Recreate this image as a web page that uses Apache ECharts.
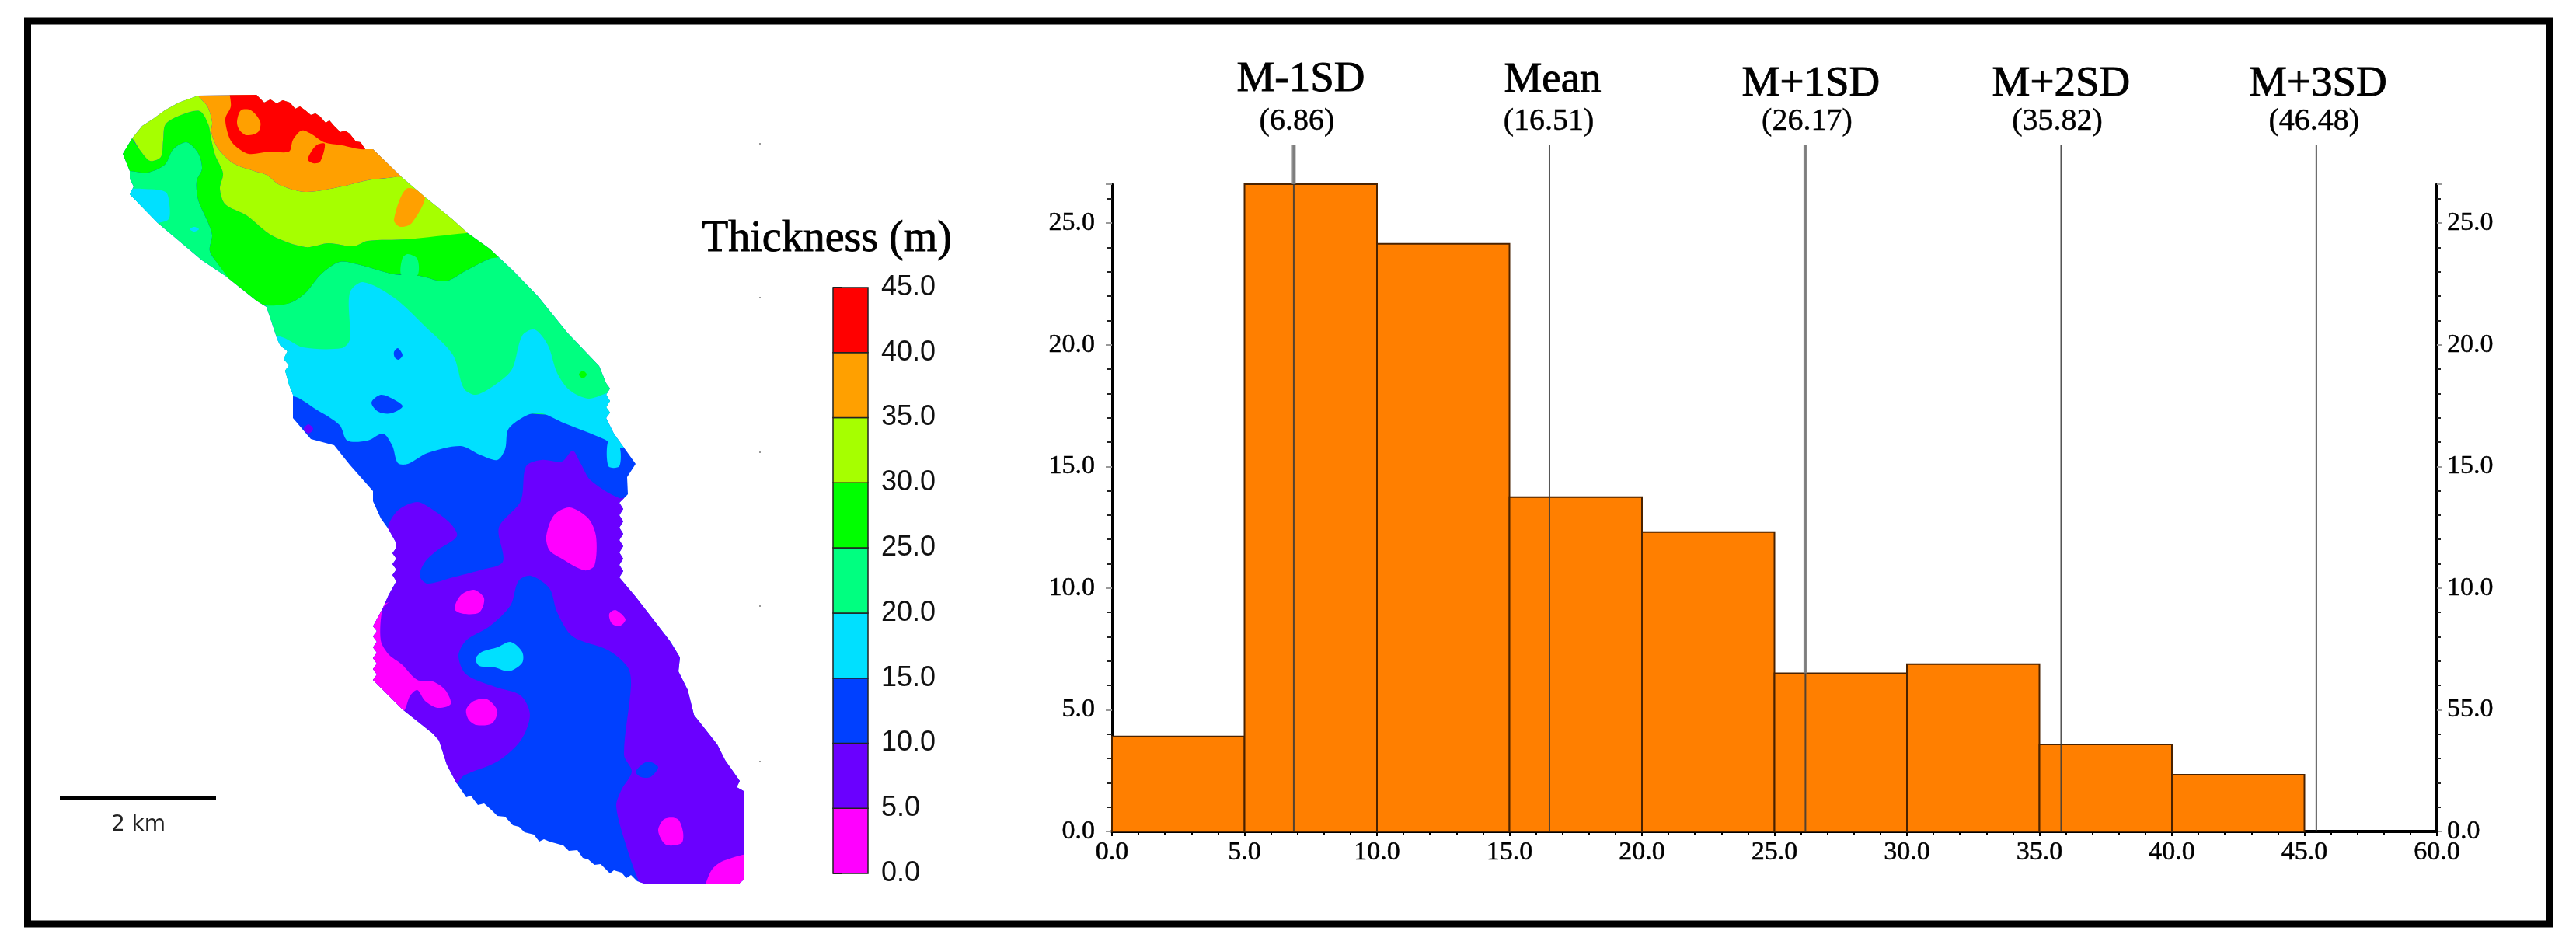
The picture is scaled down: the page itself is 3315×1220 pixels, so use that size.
<!DOCTYPE html>
<html>
<head>
<meta charset="utf-8">
<title>Thickness map and histogram</title>
<script src="https://cdn.jsdelivr.net/npm/echarts@6/dist/echarts.min.js"></script>
<style>
  html, body { margin: 0; padding: 0; background: #fff; }
  #chart { width: 3315px; height: 1220px; }
</style>
</head>
<body>
<div id="chart"></div>
<script>
// histogram values
const binEdges = [0, 5, 10, 15, 20, 25, 30, 35, 40, 45];
const binValues = [3.9, 26.6, 24.15, 13.74, 12.3, 6.5, 6.87, 3.58, 2.33];
const xTickLabels = ['0.0', '5.0', '10.0', '15.0', '20.0', '25.0', '30.0', '35.0', '40.0', '45.0', '60.0'];
const yTickLabels = ['0.0', '5.0', '10.0', '15.0', '20.0', '25.0'];
const rightTickLabels = ['0.0', '55.0', '10.0', '15.0', '20.0', '25.0'];

// statistic lines
const markerNames = ['M-1SD', 'Mean', 'M+1SD', 'M+2SD', 'M+3SD'];
const markerTexts = ['(6.86)', '(16.51)', '(26.17)', '(35.82)', '(46.48)'];
const markerValues = [6.86, 16.51, 26.17, 35.82, 45.45];

// legend
const bandEdges = [0, 5, 10, 15, 20, 25, 30, 35, 40, 45];
const legendTicks = ['0.0', '5.0', '10.0', '15.0', '20.0', '25.0', '30.0', '35.0', '40.0', '45.0'];

// map outline and thickness regions, map units
const mapBoundary = [[158,198],[170,178],[183,162],[197,153],[212,142],[230,132],[255,123],[330,122],[340,132],[348,128],[356,133],[364,129],[373,132],[380,140],[386,137],[393,142],[400,148],[406,146],[412,150],[419,158],[424,155],[430,162],[438,170],[444,168],[450,172],[458,182],[464,183],[470,192],[480,192],[517,228],[545,252],[582,282],[602,300],[630,320],[660,348],[692,381],[730,428],[771,471],[780,493],[785,500],[780,508],[785,516],[780,524],[785,531],[780,538],[790,558],[818,597],[807,614],[808,636],[797,647],[802,655],[797,663],[802,671],[797,679],[802,687],[797,695],[802,703],[797,711],[802,719],[797,727],[802,735],[797,743],[818,768],[863,826],[875,846],[873,864],[885,888],[893,920],[923,958],[933,978],[952,1005],[948,1013],[957,1018],[957,1132],[950,1138],[832,1138],[820,1134],[812,1126],[806,1130],[800,1123],[790,1120],[785,1124],[773,1112],[765,1113],[757,1106],[750,1104],[743,1094],[732,1095],[725,1088],[707,1083],[700,1080],[694,1083],[687,1074],[675,1071],[668,1064],[660,1062],[650,1051],[640,1050],[632,1042],[623,1034],[615,1036],[606,1024],[600,1026],[587,1007],[575,984],[565,953],[557,944],[518,913],[480,875],[485,868],[480,861],[485,854],[480,847],[485,840],[480,833],[485,826],[480,819],[485,812],[480,806],[492,784],[500,766],[510,748],[505,740],[510,733],[505,726],[510,719],[505,712],[510,705],[510,699],[500,681],[490,667],[480,645],[480,632],[450,598],[430,573],[400,565],[377,538],[377,508],[372,495],[367,477],[372,470],[365,462],[370,452],[361,445],[357,437],[347,407],[343,395],[330,387],[290,355],[260,335],[203,287],[167,250],[172,240],[167,230],[167,220]];
const band510Main = [[500,676],[513,656],[537,646],[557,656],[580,674],[588,690],[563,708],[547,723],[540,741],[550,751],[583,743],[617,734],[647,723],[642,679],[670,645],[677,600],[697,592],[723,594],[737,580],[747,596],[760,618],[797,641],[815,640],[815,740],[975,1015],[975,1150],[833,1150],[823,1136],[807,1092],[793,1038],[800,1016],[813,993],[803,971],[812,882],[808,859],[783,837],[737,819],[717,788],[707,757],[683,741],[667,748],[657,779],[630,806],[600,824],[590,844],[600,868],[637,884],[670,895],[682,920],[670,953],[640,980],[597,998],[583,1011],[473,882],[473,793]];
const band1015SpotE = [[818,993],[833,980],[847,987],[837,1000],[825,1000]];
const band05A = [[703,690],[713,663],[733,653],[757,667],[767,690],[765,728],[752,734],[723,719],[707,708]];
const band05B = [[585,784],[593,766],[610,759],[623,770],[617,788],[597,790]];
const band05C = [[784,790],[792,785],[805,797],[797,806],[787,802]];
const band05D = [[500,775],[492,784],[490,824],[500,842],[517,855],[537,875],[557,877],[573,888],[580,906],[563,911],[547,902],[537,888],[528,895],[518,915],[473,882],[473,793]];
const band05E = [[600,913],[610,902],[627,900],[640,915],[633,931],[613,933],[603,926]];
const band05F = [[847,1069],[855,1054],[872,1054],[879,1071],[877,1085],[857,1087]];
const band05G = [[908,1138],[917,1118],[933,1107],[975,1100],[975,1145],[908,1145]];
const band1520Spot = [[612,848],[620,839],[640,833],[657,826],[672,839],[672,853],[655,864],[637,859],[617,857]];
const band2025Main = [[320,400],[343,393],[373,390],[393,377],[413,353],[437,337],[460,340],[507,353],[540,355],[573,362],[600,348],[630,333],[643,330],[665,340],[720,380],[810,480],[800,530],[640,530],[400,520],[340,450]];
const band2025West = [[150,220],[167,220],[190,222],[212,212],[223,192],[240,183],[255,197],[260,217],[253,233],[255,257],[268,287],[273,303],[270,323],[283,343],[293,357],[280,370],[150,260]];
const band1520West = [[150,245],[167,243],[183,243],[213,247],[218,263],[217,282],[203,287],[160,295]];
const band1520Main = [[340,440],[360,433],[390,447],[440,448],[450,437],[450,377],[467,363],[507,383],[547,420],[583,457],[597,500],[613,508],[640,493],[659,475],[672,432],[688,424],[705,444],[717,480],[733,502],[757,513],[778,507],[800,500],[825,570],[797,576],[777,565],[727,545],[690,531],[655,551],[650,578],[640,592],[617,585],[593,574],[550,583],[525,597],[512,596],[505,574],[493,558],[473,567],[447,567],[437,547],[407,527],[377,510],[340,520]];
const band1520Tail = [[783,567],[797,574],[797,600],[783,600]];
const band1015SpotN = [[507,453],[512,448],[518,457],[513,463],[508,460]];
const band1015SpotS = [[478,518],[490,508],[505,513],[518,523],[503,532],[487,530]];
const band510Speck = [[391,552],[397,546],[403,552],[397,558]];
const band2530Spot = [[745,482],[750,477],[755,482],[750,487]];
const band2530Main = [[145,198],[165,170],[170,178],[180,193],[193,207],[207,202],[210,180],[213,160],[233,148],[257,143],[268,160],[272,180],[277,200],[287,223],[283,243],[290,263],[317,277],[350,303],[393,318],[423,313],[455,317],[473,310],[523,308],[600,300],[640,320],[643,330],[630,333],[600,348],[573,362],[540,355],[507,353],[460,340],[437,337],[413,353],[393,377],[373,390],[343,393],[320,385],[300,370],[293,357],[283,343],[270,323],[273,303],[268,287],[255,257],[253,233],[260,217],[255,197],[240,183],[223,192],[212,212],[190,222],[167,220],[150,220]];
const band2025Finger = [[516,353],[518,332],[525,327],[537,333],[538,353],[527,357]];
const band3035Main = [[160,175],[200,135],[250,110],[255,123],[267,137],[273,157],[272,170],[280,190],[300,210],[327,220],[343,225],[360,238],[393,247],[440,240],[473,232],[507,228],[525,225],[620,300],[600,300],[523,308],[473,310],[455,317],[423,313],[393,318],[350,303],[317,277],[290,263],[283,243],[287,223],[277,200],[272,180],[268,160],[257,143],[233,148],[213,160],[210,180],[207,202],[193,207],[180,193],[170,178]];
const band3540Main = [[250,110],[340,110],[480,180],[530,225],[507,228],[473,232],[440,240],[393,247],[360,238],[343,225],[327,220],[300,210],[280,190],[272,170],[273,157],[267,137],[255,123]];
const band3540Spike = [[507,283],[523,243],[547,252],[530,287],[515,292]];
const band4045Main = [[297,110],[297,137],[290,153],[295,177],[303,188],[320,198],[347,195],[372,195],[377,180],[388,168],[400,172],[417,183],[440,187],[470,192],[490,180],[400,130],[340,110]];
const band3540Hole = [[305,157],[310,142],[323,142],[335,157],[332,170],[317,174],[308,167]];
const band4045Spot = [[396,205],[407,187],[418,185],[412,208],[403,210]];
const band1520Speck = [[244,295],[250,292],[256,295],[250,298]];
const mapSpecks = [[978,185],[978,383],[978,582],[978,780],[978,980]];

const bandColors = ['#FF00FF', '#6A00FF', '#0040FF', '#00E0FF', '#00FF80', '#00FF00', '#A6FF00', '#FFA000', '#FF0000'];
const mapRegions = [
  { band: 1, points: band510Main },
  { band: 2, points: band1015SpotE },
  { band: 0, points: band05A },
  { band: 0, points: band05B },
  { band: 0, points: band05C },
  { band: 0, points: band05D },
  { band: 0, points: band05E },
  { band: 0, points: band05F },
  { band: 0, points: band05G },
  { band: 3, points: band1520Spot },
  { band: 4, points: band2025Main },
  { band: 4, points: band2025West },
  { band: 3, points: band1520West },
  { band: 3, points: band1520Main },
  { band: 3, points: band1520Tail },
  { band: 2, points: band1015SpotN },
  { band: 2, points: band1015SpotS },
  { band: 1, points: band510Speck },
  { band: 5, points: band2530Spot },
  { band: 5, points: band2530Main },
  { band: 4, points: band2025Finger },
  { band: 6, points: band3035Main },
  { band: 7, points: band3540Main },
  { band: 7, points: band3540Spike },
  { band: 8, points: band4045Main },
  { band: 7, points: band3540Hole },
  { band: 8, points: band4045Spot },
  { band: 3, points: band1520Speck }
];

const serif = '"Liberation Serif", "Times New Roman", serif';
const markerDx = [9, 4, 7, 0, 2];
const markerNameDy = [-84, -83, -78, -78, -78];
const markerTopValue = 28.2;

const chart = echarts.init(document.getElementById('chart'), null, { renderer: 'canvas' });

function renderMapBase(params, api) {
  const outline = mapBoundary.map(p => api.coord(p));
  return { type: 'polygon', shape: { points: outline }, style: { fill: bandColors[2] } };
}

function renderMapRegion(params, api) {
  const region = mapRegions[params.dataIndex];
  return {
    type: 'polygon',
    shape: { points: region.points.map(p => api.coord(p)), smooth: 0.3 },
    style: { fill: bandColors[region.band] },
    clipPath: { type: 'polygon', shape: { points: mapBoundary.map(p => api.coord(p)) } }
  };
}

function renderLegendCell(params, api) {
  const i = params.dataIndex;
  const lo = api.coord([0, bandEdges[i]]);
  const hi = api.coord([1, bandEdges[i + 1]]);
  return {
    type: 'rect',
    shape: { x: lo[0], y: hi[1], width: hi[0] - lo[0], height: lo[1] - hi[1] },
    style: { fill: bandColors[i], stroke: '#222', lineWidth: 1.5 }
  };
}

function renderBin(params, api) {
  const i = params.dataIndex;
  const p0 = api.coord([binEdges[i], 0]);
  const p1 = api.coord([binEdges[i] + 5, binValues[i]]);
  return {
    type: 'rect',
    shape: { x: p0[0], y: p1[1], width: p1[0] - p0[0], height: p0[1] - p1[1] },
    style: { fill: '#FF7F00', stroke: '#4a2200', lineWidth: 2 }
  };
}

function renderMarker(params, api) {
  const i = params.dataIndex;
  const base = api.coord([markerValues[i], 0]);
  const top = api.coord([markerValues[i], markerTopValue]);
  const children = [
    {
      type: 'line',
      shape: { x1: base[0], y1: base[1], x2: top[0], y2: top[1] },
      style: { stroke: 'rgba(55,55,55,0.85)', lineWidth: 2 }
    },
    {
      type: 'text',
      style: {
        x: top[0] + markerDx[i], y: top[1] + markerNameDy[i], text: markerNames[i],
        fontFamily: serif, fontSize: 55, fill: '#000', stroke: '#000', lineWidth: 0.9,
        align: 'center', verticalAlign: 'middle'
      }
    },
    {
      type: 'text',
      style: {
        x: top[0] + markerDx[i] - 5, y: top[1] - 30, text: markerTexts[i],
        fontFamily: serif, fontSize: 40, fill: '#000', stroke: '#000', lineWidth: 0.5,
        align: 'center', verticalAlign: 'middle'
      }
    }
  ];
  // two of the lines are wider and paler above the bars
  if (i === 0 || i === 2) {
    const barTop = api.coord([markerValues[i], binValues[Math.floor(markerValues[i] / 5)]]);
    children.push({
      type: 'line',
      shape: { x1: barTop[0], y1: barTop[1], x2: top[0], y2: top[1] },
      style: { stroke: 'rgba(130,130,130,0.9)', lineWidth: 5 }
    });
  }
  return { type: 'group', children };
}

const hiddenAxis = { show: false };

const option = {
  backgroundColor: '#fff',
  animation: false,
  grid: [
    { left: 0, top: 0, width: 1300, height: 1220 },
    { left: 1072, top: 370, width: 45, height: 754 },
    { left: 1431, top: 237, width: 1705, height: 833 }
  ],
  xAxis: [
    Object.assign({ type: 'value', gridIndex: 0, min: 0, max: 1300 }, hiddenAxis),
    Object.assign({ type: 'value', gridIndex: 1, min: 0, max: 1 }, hiddenAxis),
    {
      type: 'value', gridIndex: 2, min: 0, max: 50, interval: 5,
      splitLine: { show: false },
      axisLine: { onZero: false, lineStyle: { color: '#000', width: 4 } },
      axisTick: { length: 6, lineStyle: { color: '#000', width: 2 } },
      minorTick: { show: true, splitNumber: 5, length: 5, lineStyle: { color: '#000', width: 2 } },
      axisLabel: {
        margin: 10, fontFamily: serif, fontSize: 34, color: '#000', textBorderColor: '#000', textBorderWidth: 0.5,
        showMaxLabel: true, hideOverlap: false,
        formatter: v => xTickLabels[Math.round(v / 5)]
      }
    }
  ],
  yAxis: [
    Object.assign({ type: 'value', gridIndex: 0, min: 0, max: 1220, inverse: true }, hiddenAxis),
    {
      type: 'value', gridIndex: 1, min: 0, max: 45, interval: 5, position: 'right',
      splitLine: { show: false },
      axisLine: { show: false },
      axisTick: { length: 11, lineStyle: { color: '#222', width: 2 } },
      axisLabel: {
        margin: 17, fontFamily: '"Liberation Sans", Arial, sans-serif', fontSize: 36, color: '#111',
        padding: [8, 0, 0, 0],
        formatter: v => legendTicks[Math.round(v / 5)]
      }
    },
    {
      type: 'value', gridIndex: 2, min: 0, max: 26.6, interval: 5, position: 'left',
      splitLine: { show: false },
      axisLine: { lineStyle: { color: '#000', width: 3 } },
      axisTick: { length: 8, lineStyle: { color: '#999', width: 2 } },
      minorTick: { show: true, splitNumber: 5, length: 6, lineStyle: { color: '#222', width: 2 } },
      axisLabel: {
        margin: 22, fontFamily: serif, fontSize: 34, color: '#000', textBorderColor: '#000', textBorderWidth: 0.5,
        showMaxLabel: false,
        formatter: v => (v % 5 === 0 ? yTickLabels[v / 5] : '')
      }
    },
    {
      type: 'value', gridIndex: 2, min: 0, max: 26.6, interval: 5, position: 'right',
      splitLine: { show: false },
      axisLine: { lineStyle: { color: '#000', width: 4 } },
      axisTick: { length: 6, lineStyle: { color: '#999', width: 2 } },
      minorTick: { show: true, splitNumber: 5, length: 5, lineStyle: { color: '#222', width: 2 } },
      axisLabel: {
        margin: 13, fontFamily: serif, fontSize: 34, color: '#000', textBorderColor: '#000', textBorderWidth: 0.5,
        showMaxLabel: false,
        formatter: v => (v % 5 === 0 ? rightTickLabels[v / 5] : '')
      }
    }
  ],
  series: [
    { type: 'custom', xAxisIndex: 0, yAxisIndex: 0, renderItem: renderMapBase, data: [[0]], silent: true },
    { type: 'custom', xAxisIndex: 0, yAxisIndex: 0, renderItem: renderMapRegion, data: mapRegions.map((r, i) => [i]), silent: true },
    { type: 'scatter', xAxisIndex: 0, yAxisIndex: 0, data: mapSpecks, symbolSize: 2, itemStyle: { color: '#555' }, silent: true },
    { type: 'custom', xAxisIndex: 1, yAxisIndex: 1, renderItem: renderLegendCell, data: bandColors.map((c, i) => [i]), silent: true },
    { type: 'custom', xAxisIndex: 2, yAxisIndex: 2, renderItem: renderBin, data: binValues.map((v, i) => [binEdges[i], v]), silent: true },
    { type: 'custom', xAxisIndex: 2, yAxisIndex: 2, renderItem: renderMarker, data: markerValues.map(v => [v, 0]), silent: true, z: 5 }
  ],
  graphic: [
    { type: 'rect', shape: { x: 35.5, y: 27, width: 3245, height: 1162 }, style: { fill: 'none', stroke: '#000', lineWidth: 9 } },
    { type: 'text', style: { x: 1064, y: 308, text: 'Thickness (m)', fontFamily: serif, fontSize: 56, fill: '#000', stroke: '#000', lineWidth: 0.9, align: 'center', verticalAlign: 'middle' } },
    { type: 'line', shape: { x1: 77, y1: 1027, x2: 278, y2: 1027 }, style: { stroke: '#000', lineWidth: 6 } },
    { type: 'text', style: { x: 178, y: 1062, text: '2 km', fontFamily: '"DejaVu Sans", sans-serif', fontSize: 28, fill: '#222', align: 'center', verticalAlign: 'middle' } }
  ]
};

chart.setOption(option);
</script>
</body>
</html>
